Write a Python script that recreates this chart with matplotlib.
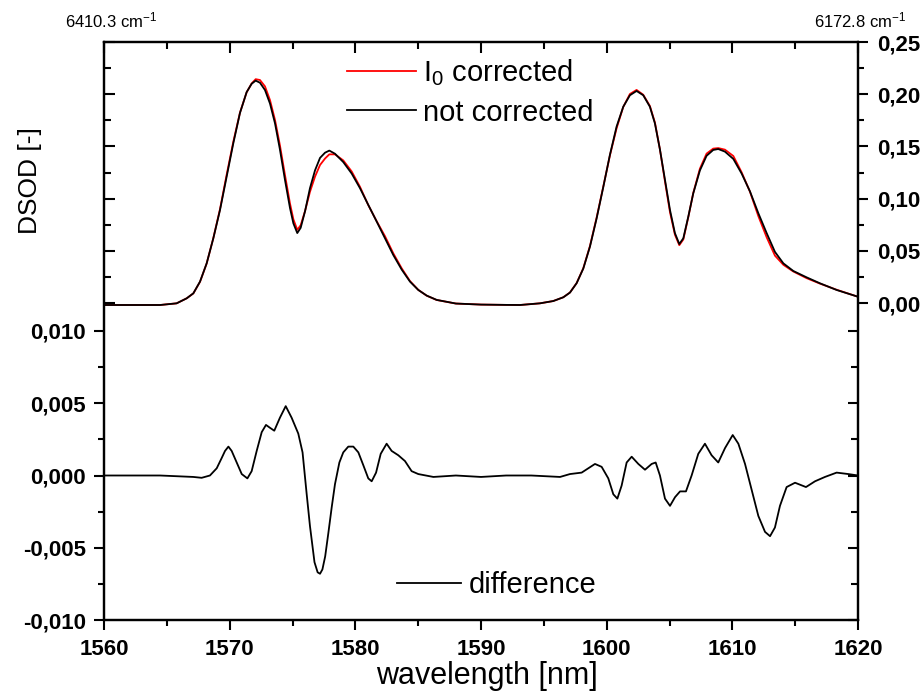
import numpy as np
import matplotlib
matplotlib.use("Agg")
import matplotlib.pyplot as plt
from matplotlib.ticker import FuncFormatter, MultipleLocator

plt.rcParams['font.family'] = ['Liberation Sans', 'DejaVu Sans']
plt.rcParams['mathtext.default'] = 'regular'

# upper spectra (right axis)
wl = [1560, 1562, 1564.46, 1565.78, 1566.58, 1567.11, 1567.64, 1568.17, 1568.7, 1569.23,
      1569.76, 1570.29, 1570.82, 1571.35, 1571.75, 1572.07, 1572.41, 1572.81, 1573.21, 1573.61,
      1574.0, 1574.4, 1574.8, 1575.07, 1575.38, 1575.65, 1576.0, 1576.39, 1576.79, 1577.19,
      1577.59, 1577.93, 1578.38, 1579.04, 1579.71, 1580.37, 1581.03, 1581.7, 1582.36, 1583.02,
      1583.69, 1584.35, 1585.01, 1585.68, 1586.47, 1588, 1590, 1592,
      1593.1, 1594.69, 1595.75, 1596.55, 1597.08, 1597.61, 1598.14, 1598.67, 1599.2, 1599.73,
      1600.26, 1600.79, 1601.32, 1601.85, 1602.38, 1602.91, 1603.44, 1603.84, 1604.24, 1604.64,
      1605.04, 1605.43, 1605.78, 1606.1, 1606.5, 1606.89, 1607.42, 1607.95, 1608.48, 1608.88,
      1609.41, 1610.08, 1610.74, 1611.4, 1612.07, 1612.73, 1613.39, 1614.06, 1614.85, 1615.91,
      1616.97, 1618.3, 1620]
not_corrected = [-0.0019, -0.0019, -0.0019, -0.0003, 0.0045, 0.0093, 0.0205, 0.038, 0.062, 0.089,
                 0.121, 0.153, 0.182, 0.202, 0.210, 0.213, 0.211, 0.204, 0.191, 0.172,
                 0.147, 0.118, 0.091, 0.0763, 0.067, 0.072, 0.088, 0.110, 0.127, 0.139,
                 0.144, 0.146, 0.143, 0.135, 0.124, 0.110, 0.094, 0.078, 0.062, 0.046,
                 0.032, 0.0205, 0.0125, 0.0071, 0.003, -0.0005, -0.0015, -0.0018,
                 -0.0019, -0.0003, 0.0019, 0.0055, 0.010, 0.019, 0.033, 0.054, 0.081, 0.111,
                 0.142, 0.169, 0.188, 0.199, 0.2031, 0.199, 0.188, 0.172, 0.147, 0.118,
                 0.089, 0.067, 0.0565, 0.062, 0.083, 0.105, 0.127, 0.141, 0.1466, 0.1475,
                 0.145, 0.138, 0.124, 0.107, 0.086, 0.067, 0.049, 0.038, 0.0307, 0.0246,
                 0.0189, 0.0125, 0.006]
i0_corrected = [-0.0019, -0.0019, -0.0019, -0.0003, 0.0045, 0.0092, 0.0203, 0.0379, 0.0622, 0.0899,
                0.1229, 0.1545, 0.1824, 0.2018, 0.2103, 0.2144, 0.2136, 0.2075, 0.1943, 0.1752,
                0.151, 0.1227, 0.0953, 0.0802, 0.0701, 0.0745, 0.0882, 0.1065, 0.121, 0.1322,
                0.1384, 0.1424, 0.1424, 0.1366, 0.126, 0.1113, 0.0938, 0.0783, 0.064, 0.0476,
                0.0332, 0.021, 0.0126, 0.007, 0.0029, -0.0005, -0.0015, -0.0018,
                -0.0019, -0.0003, 0.0019, 0.0055, 0.0101, 0.0191, 0.0333, 0.0546, 0.0818, 0.1115,
                0.1414, 0.1674, 0.1878, 0.2002, 0.2041, 0.1995, 0.1887, 0.1729, 0.147, 0.1164,
                0.0869, 0.0655, 0.0554, 0.0609, 0.0824, 0.1054, 0.1287, 0.1431, 0.1479, 0.1484,
                0.1469, 0.1408, 0.1252, 0.1067, 0.0832, 0.063, 0.0454, 0.0366, 0.0302, 0.0238,
                0.0186, 0.0127, 0.006]

# difference (left axis)
wl_diff = [1560, 1562, 1564.46, 1567.11, 1567.77, 1568.43, 1568.97, 1569.36, 1569.63, 1569.9,
           1570.16, 1570.56, 1570.96, 1571.41, 1571.75, 1572.15, 1572.55, 1572.89, 1573.21, 1573.55,
           1574.0, 1574.46, 1574.93, 1575.46, 1575.8, 1576.13, 1576.39, 1576.75, 1577.0, 1577.19,
           1577.38, 1577.6, 1577.85, 1578.12, 1578.38, 1578.73, 1579.04, 1579.44, 1579.84, 1580.24,
           1580.64, 1581.03, 1581.3, 1581.65, 1582.02, 1582.49, 1582.89, 1583.42, 1583.95, 1584.48,
           1585.01, 1586.21, 1588, 1590, 1592, 1594, 1596.29, 1597.08, 1598.01, 1598.54,
           1599.07, 1599.6, 1600.13, 1600.53, 1600.85, 1601.19, 1601.59, 1601.99, 1602.52, 1603.05,
           1603.58, 1603.9, 1604.24, 1604.64, 1605.04, 1605.44, 1605.84, 1606.31, 1606.76, 1607.29,
           1607.82, 1608.35, 1608.88, 1609.42, 1610.03, 1610.48, 1611.01, 1611.54, 1612.07, 1612.6,
           1613.0, 1613.39, 1613.79, 1614.32, 1614.99, 1615.86, 1616.58, 1617.37, 1618.3, 1619.23,
           1620]
difference = [0, 0, 0, -0.0001, -0.00016, 0.0, 0.0005, 0.0012, 0.0017, 0.0020,
              0.0017, 0.0009, 0.0001, -0.0002, 0.0003, 0.0017, 0.0030, 0.0035, 0.0033, 0.0031,
              0.0040, 0.0048, 0.0040, 0.0029, 0.0016, -0.0013, -0.0035, -0.0060, -0.0067, -0.0068,
              -0.0065, -0.0056, -0.0040, -0.0022, -0.0006, 0.0009, 0.0016, 0.0020, 0.0020, 0.0016,
              0.0007, -0.0002, -0.0004, 0.0002, 0.0015, 0.0022, 0.0017, 0.0014, 0.0010, 0.0003,
              0.0001, -0.0001, 0, -0.0001, 0, 0, -0.0001, 0.0001, 0.0002, 0.0005,
              0.0008, 0.0006, -0.0002, -0.0013, -0.0016, -0.0007, 0.0009, 0.0013, 0.0008, 0.0004,
              0.0008, 0.0009, 0.0000, -0.0016, -0.0021, -0.0015, -0.0011, -0.0011, 0.0000, 0.0015,
              0.0022, 0.0014, 0.0009, 0.0019, 0.0028, 0.0022, 0.0008, -0.0010, -0.0028, -0.0039,
              -0.0042, -0.0036, -0.0021, -0.0008, -0.0005, -0.0008, -0.0004, -0.0001, 0.0002, 0.0001,
              0]

xlim = (1560, 1620)
low_lim = (-0.010, 0.030)
up_lim = (-0.3036, 0.25)


def comma(decimals):
    def f(v, pos):
        if abs(v) < 1e-12:
            v = 0.0
        return f"{v:.{decimals}f}".replace('.', ',')
    return FuncFormatter(f)


fig = plt.figure(figsize=(9.24, 6.91), dpi=100)
ax = fig.add_axes([104/924, 1-620/691, 754/924, 578/691])

lw_spine = 1.5

# lower: difference
ax.plot(wl_diff, difference, color='black', lw=1.3, label='difference')
ax.set_xlim(*xlim)
ax.set_ylim(*low_lim)
ax.set_yticks([-0.010, -0.005, 0.0, 0.005, 0.010])
ax.set_yticks([-0.0075, -0.0025, 0.0025, 0.0075], minor=True)
ax.yaxis.set_major_formatter(comma(3))
ax.xaxis.set_major_locator(MultipleLocator(10))
ax.xaxis.set_minor_locator(MultipleLocator(5))
ax.tick_params(which='major', direction='out', length=7.5, width=1.5, pad=6, labelsize=16)
ax.tick_params(which='minor', direction='out', length=4, width=1.5)
ax.tick_params(axis='y', which='major', pad=5.5)
ax.tick_params(top=False, right=False, which='both')
for lab in ax.get_xticklabels() + ax.get_yticklabels():
    lab.set_fontweight('bold')
for s in ax.spines.values():
    s.set_linewidth(lw_spine)

# upper: spectra on right axis
ax2 = ax.twinx()
ax2.plot(wl, i0_corrected, color='#ff0000', lw=1.3, label='I$_0$ corrected')
ax2.plot(wl, not_corrected, color='black', lw=1.3, label='not corrected')
ax2.set_ylim(*up_lim)
ax2.set_yticks([0.0, 0.05, 0.10, 0.15, 0.20, 0.25])
ax2.set_yticks([0.025, 0.075, 0.125, 0.175, 0.225], minor=True)
ax2.yaxis.set_major_formatter(comma(2))
ax2.tick_params(which='major', direction='out', length=7.5, width=1.5, pad=6, labelsize=16)
ax2.tick_params(which='minor', direction='out', length=4, width=1.5)
for lab in ax2.get_yticklabels():
    lab.set_fontweight('bold')

# mirrored ticks: upper scale on left spine
ax3 = ax.twinx()
ax3.yaxis.tick_left()
ax3.set_ylim(*up_lim)
ax3.set_yticks([0.0, 0.05, 0.10, 0.15, 0.20, 0.25])
ax3.set_yticks([0.025, 0.075, 0.125, 0.175, 0.225], minor=True)
ax3.tick_params(which='major', direction='in', length=8, width=1.5, labelleft=False)
ax3.tick_params(which='minor', direction='in', length=5, width=1.5)

# mirrored ticks: lower scale on right spine
ax4 = ax.twinx()
ax4.set_ylim(*low_lim)
ax4.set_yticks([-0.010, -0.005, 0.0, 0.005, 0.010])
ax4.set_yticks([-0.0075, -0.0025, 0.0025, 0.0075], minor=True)
ax4.tick_params(which='major', direction='in', length=7, width=1.5, labelright=False)
ax4.tick_params(which='minor', direction='in', length=5, width=1.5)

# top ticks
ax5 = ax.twiny()
ax5.set_xlim(*xlim)
ax5.xaxis.set_major_locator(MultipleLocator(10))
ax5.xaxis.set_minor_locator(MultipleLocator(5))
ax5.tick_params(which='major', direction='in', length=8, width=1.5, labeltop=False)
ax5.tick_params(which='minor', direction='in', length=5, width=1.5)

for a in (ax2, ax3, ax4, ax5):
    for s in a.spines.values():
        s.set_linewidth(lw_spine)

leg1 = ax2.legend(loc='center left', bbox_to_anchor=(347/924, 1-92/691),
                  bbox_transform=fig.transFigure, frameon=False, fontsize=21,
                  handlelength=2.35, handletextpad=0.25, labelspacing=0.35,
                  borderpad=0, borderaxespad=0)
leg2 = ax.legend(loc='center left', bbox_to_anchor=(397/924, 1-585/691),
                 bbox_transform=fig.transFigure, frameon=False, fontsize=21,
                 handlelength=2.2, handletextpad=0.25, borderpad=0, borderaxespad=0)

fig.text(30/924, 1-181/691, 'DSOD [-]', rotation=90, ha='center', va='center', fontsize=19)
fig.text(487/924, 1-684/691, 'wavelength [nm]', ha='center', va='baseline', fontsize=22)
fig.text(111/924, 1-20/691, '6410.3 cm$^{-1}$', ha='center', va='center', fontsize=12)
fig.text(860/924, 1-20/691, '6172.8 cm$^{-1}$', ha='center', va='center', fontsize=12)

fig.savefig('out.png', dpi=100)
